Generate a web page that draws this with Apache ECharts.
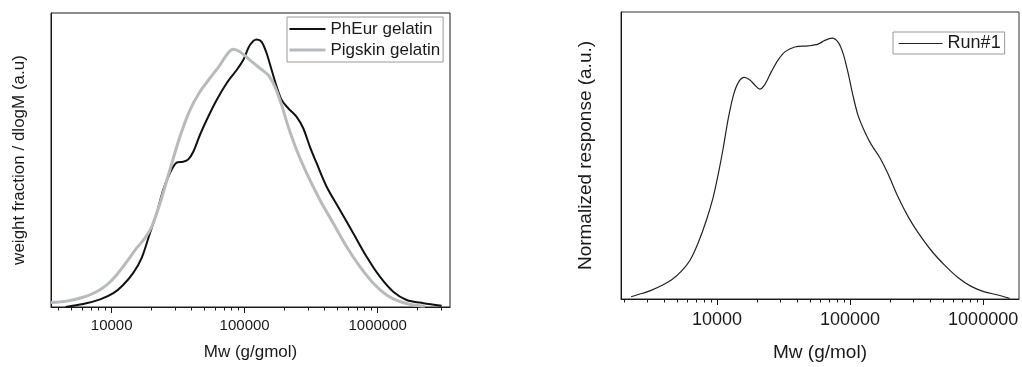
<!DOCTYPE html>
<html>
<head>
<meta charset="utf-8">
<script src="https://cdn.jsdelivr.net/npm/echarts@6/dist/echarts.min.js"></script>
<style>
  html, body { margin: 0; padding: 0; background: #fff; }
  #chart { width: 1022px; height: 367px; }
</style>
</head>
<body>
<div id="chart"></div>
<script>
// Molecular weight distributions (GPC), log Mw on x, relative response on y.

// Left panel: two gelatins
const phEurMw = [4500, 6100, 8200, 10300, 12200, 14500, 16800, 19400, 21800, 24400,
  27400, 30800, 34500, 37700, 41100, 46100, 51800, 61600, 73200, 87100,
  97600, 109600, 123100, 134200, 146300, 159600, 174100, 189800, 212700, 246000,
  275900, 309700, 347700, 413700, 520600, 655400, 826600, 1040000, 1310000, 1652000,
  2203000, 3029000];
const phEurW = [0.0, 1.0, 2.6, 4.7, 7.5, 11.5, 16.6, 25.1, 31.9, 39.8,
  45.5, 49.1, 49.4, 50.2, 52.8, 58.5, 63.6, 70.4, 76.1, 80.6,
  84.0, 89.1, 91.0, 90.2, 86.3, 80.6, 74.9, 70.4, 67.6, 64.7,
  60.8, 54.5, 48.9, 40.9, 33.0, 25.1, 17.1, 10.3, 5.2, 2.4,
  1.3, 0.4];

const pigskinMw = [3500, 4590, 6100, 7700, 9200, 10900, 13000, 15400, 17800, 20000,
  23100, 27400, 32600, 38800, 46100, 54800, 65200, 75300, 82100, 92200,
  109600, 130300, 150400, 169000, 189800, 212700, 246000, 292500, 368200, 463600,
  584700, 736000, 926600, 1169000, 1471000, 1853000, 2269000];
const pigskinW = [1.5, 2.0, 3.3, 5.2, 7.5, 10.9, 15.4, 20.0, 23.4, 27.3,
  35.3, 46.6, 57.9, 67.0, 73.2, 77.8, 82.3, 86.5, 87.7, 86.8,
  84.0, 81.2, 78.9, 74.9, 68.7, 61.3, 53.4, 45.5, 36.4, 28.5,
  20.5, 13.7, 8.1, 4.1, 1.8, 0.7, 0.3];

// Right panel: single run
const runMw = [2260, 2720, 3230, 3840, 4570, 5430, 6270, 7240, 8360, 9380,
  10230, 11150, 12160, 13250, 14450, 16030, 17680, 19280, 21020, 22920,
  25690, 28830, 32370, 38470, 48410, 57540, 64570, 73280, 81280, 88610,
  96600, 105300, 114800, 128900, 144500, 167100, 192800, 229100, 272300, 323700,
  407400, 513300, 645900, 812700, 1024000, 1289000, 1578000];
const runResp = [0.8, 1.9, 3.1, 4.7, 6.7, 9.8, 13.5, 19.7, 27.7, 35.6,
  43.6, 52.7, 62.9, 70.8, 75.4, 77.2, 76.3, 74.5, 73.1, 74.8,
  79.3, 83.3, 86.1, 87.8, 88.2, 88.8, 90.1, 90.9, 89.5, 85.6,
  78.8, 70.8, 64.0, 58.3, 53.8, 49.3, 43.6, 35.6, 28.8, 23.2,
  16.9, 11.8, 7.5, 4.4, 2.5, 1.4, 0.2];

// Axis ticks
const majorTicks = [10000, 100000, 1000000];
const leftRange = [3500, 3500000];
const rightRange = [1900, 1860000];

const FONT = '"Liberation Sans", Arial, Helvetica, sans-serif';
const INK = '#1a1a1a';

function zip(xs, ys) { return xs.map((x, i) => [x, ys[i]]); }

function minorTicksIn(range) {
  const out = [];
  for (let p = 3; p <= 6; p++) {
    for (let m = 2; m <= 9; m++) {
      const v = m * Math.pow(10, p);
      if (v > range[0] && v < range[1]) out.push(v);
    }
  }
  return out;
}

function xAxes(gridIndex, range, labelSize, labelMargin, name, nameSize, nameGap) {
  return [
    {
      type: 'log', logBase: 10, gridIndex, min: range[0], max: range[1], position: 'bottom',
      name, nameLocation: 'middle', nameGap,
      nameTextStyle: { fontSize: nameSize, color: INK, fontFamily: FONT },
      axisLine: { show: true, onZero: false, lineStyle: { color: INK, width: 1 } },
      axisTick: { show: true, customValues: majorTicks, length: 6, lineStyle: { color: INK, width: 1 } },
      axisLabel: { customValues: majorTicks, formatter: v => String(Math.round(v)),
        fontSize: labelSize, margin: labelMargin, color: INK, fontFamily: FONT },
      splitLine: { show: false }, minorTick: { show: false }
    },
    {
      type: 'log', logBase: 10, gridIndex, min: range[0], max: range[1], position: 'bottom',
      axisLine: { show: false },
      axisTick: { show: true, customValues: minorTicksIn(range), length: 3.5,
        lineStyle: { color: INK, width: 1 } },
      axisLabel: { show: false }, splitLine: { show: false }
    }
  ];
}

function yAxis(gridIndex, name, nameSize, nameGap) {
  return {
    type: 'value', gridIndex, min: 0, max: 100,
    name, nameLocation: 'middle', nameGap,
    nameTextStyle: { fontSize: nameSize, color: INK, fontFamily: FONT },
    axisLine: { show: true, lineStyle: { color: INK, width: 1 } },
    axisTick: { show: false }, axisLabel: { show: false }, splitLine: { show: false }
  };
}

const chart = echarts.init(document.getElementById('chart'), null, { renderer: 'canvas' });

chart.setOption({
  backgroundColor: '#fff',
  animation: false,
  grid: [
    { left: 51, top: 13, width: 399, height: 294, show: true, borderColor: INK, borderWidth: 1 },
    { left: 621, top: 12, width: 398, height: 294, show: true, borderColor: '#333', borderWidth: 1 }
  ],
  xAxis: [
    ...xAxes(0, leftRange, 15, 11, 'Mw (g/gmol)', 17, 37),
    ...xAxes(1, rightRange, 18, 12, 'Mw (g/mol)', 19, 44)
  ],
  yAxis: [
    yAxis(0, 'weight fraction / dlogM (a.u)', 17, 23),
    yAxis(1, 'Normalized response (a.u.)', 19, 26)
  ],
  legend: [
    {
      data: ['PhEur gelatin', 'Pigskin gelatin'],
      orient: 'vertical', left: 287, top: 17,
      itemWidth: 36, itemHeight: 12, itemGap: 3,
      padding: [3, 3, 3, 1],
      borderColor: '#9a9a9a', borderWidth: 1,
      itemStyle: { opacity: 0 },
      lineStyle: { width: 'inherit' },
      textStyle: { fontSize: 17, color: INK, fontFamily: FONT, lineHeight: 18 }
    },
    {
      data: ['Run#1'],
      orient: 'vertical', left: 893, top: 32,
      itemWidth: 44, itemHeight: 12,
      padding: [2, 4, 1, 5],
      borderColor: '#9a9a9a', borderWidth: 1,
      itemStyle: { opacity: 0 },
      lineStyle: { width: 'inherit' },
      textStyle: { fontSize: 18, color: INK, fontFamily: FONT, lineHeight: 19 }
    }
  ],
  series: [
    {
      name: 'PhEur gelatin', type: 'line', xAxisIndex: 0, yAxisIndex: 0,
      data: zip(phEurMw, phEurW), showSymbol: false, symbol: 'none', smooth: 0.3,
      lineStyle: { color: '#111', width: 2 }, itemStyle: { color: '#111' }
    },
    {
      name: 'Pigskin gelatin', type: 'line', xAxisIndex: 0, yAxisIndex: 0,
      data: zip(pigskinMw, pigskinW), showSymbol: false, symbol: 'none', smooth: 0.3,
      lineStyle: { color: '#b8bbbe', width: 3 }, itemStyle: { color: '#b8bbbe' }
    },
    {
      name: 'Run#1', type: 'line', xAxisIndex: 2, yAxisIndex: 1,
      data: zip(runMw, runResp), showSymbol: false, symbol: 'none', smooth: 0.3,
      lineStyle: { color: '#222', width: 1.2 }, itemStyle: { color: '#222' }
    }
  ]
});
</script>
</body>
</html>
